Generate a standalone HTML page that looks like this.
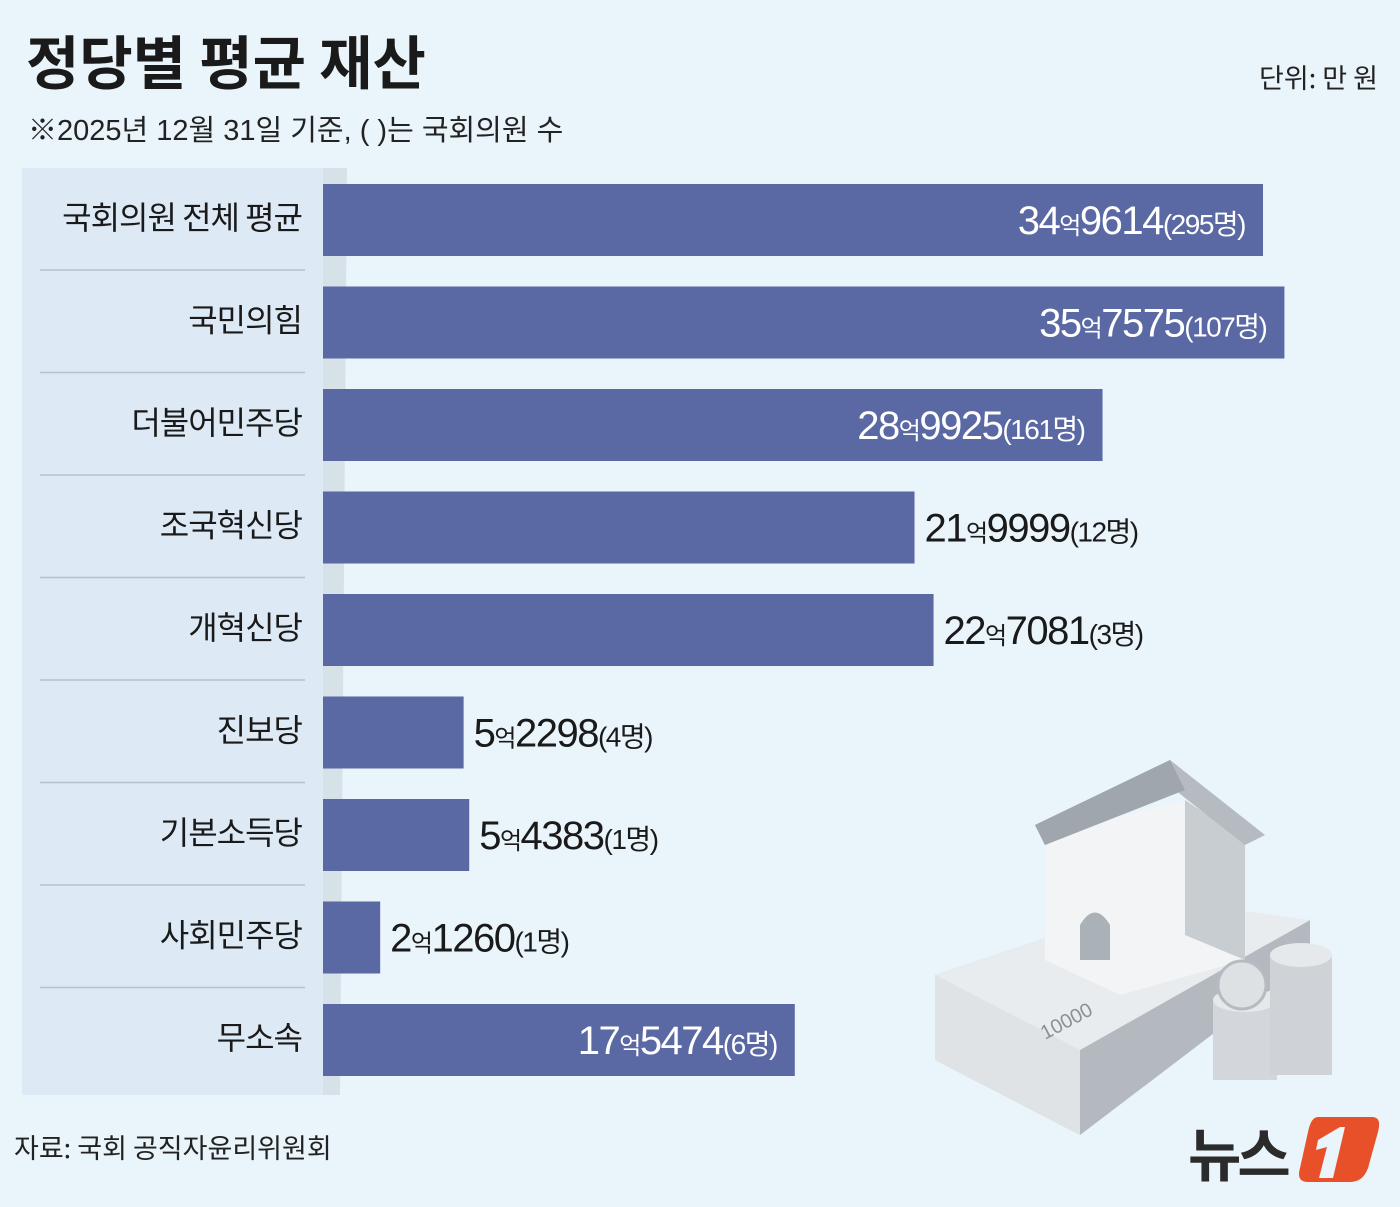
<!DOCTYPE html>
<html><head><meta charset="utf-8">
<style>
html,body{margin:0;padding:0;background:#eaf4fb;}
body{width:1400px;height:1207px;overflow:hidden;position:relative;font-family:"Liberation Sans","Noto Sans CJK KR",sans-serif;}
svg{position:absolute;left:0;top:0}
</style></head>
<body>
<svg id="chart" width="1400" height="1207" viewBox="0 0 1400 1207">
  <rect x="0" y="0" width="1400" height="1207" fill="#eaf4fb"/>
  <text x="26" y="84" font-size="58" font-weight="bold" fill="#1a1a1a" font-family="'Noto Sans CJK KR',sans-serif">정당별 평균 재산</text>
  <text x="28" y="140" font-size="29" fill="#222" font-family="'Liberation Sans','Noto Sans CJK KR',sans-serif">※2025년 12월 31일 기준, ( )는 국회의원 수</text>
  <text x="1378" y="88" font-size="27" fill="#222" text-anchor="end" font-family="'Noto Sans CJK KR',sans-serif">단위: 만 원</text>
  <rect x="22" y="168" width="301" height="927" fill="#dde9f5"/>
  <polygon points="323,168 347,168 340,1095 323,1095" fill="#c9d4dc" opacity="0.6"/>
  <g id="bars"></g>
  <g id="illustration">
    <polygon points="935,975 1160,900 1310,960 1080,1135 935,1060" fill="#c9ced3"/>
    <polygon points="935,975 1080,1050 1080,1135 935,1060" fill="#dfe3e6"/>
    <polygon points="1080,1050 1310,920 1310,960 1080,1135" fill="#b3b9bf"/>
    <polygon points="935,975 1160,900 1310,920 1080,1050" fill="#e9ecee"/>
    <text x="1045" y="1040" font-size="20" fill="#8a9096" transform="rotate(-28 1045 1040)" font-family="'Liberation Sans',sans-serif">10000</text>
    <polygon points="1045,835 1185,800 1245,840 1245,960 1120,995 1045,960" fill="#f2f4f5"/>
    <polygon points="1185,800 1245,840 1245,960 1185,935" fill="#c8cdd2"/>
    <polygon points="1035,825 1170,760 1265,835 1245,845 1175,790 1045,845" fill="#b5bbc1"/>
    <polygon points="1035,825 1170,760 1185,790 1045,845" fill="#9fa6ad"/>
    <path d="M1080,960 L1080,925 Q1095,900 1110,925 L1110,960 Z" fill="#aab1b7"/>
    <ellipse cx="1245" cy="1040" rx="32" ry="12" fill="#c5cacf"/>
    <rect x="1213" y="1000" width="64" height="80" fill="#d3d7db"/>
    <ellipse cx="1245" cy="1000" rx="32" ry="12" fill="#e6e9eb"/>
    <rect x="1270" y="955" width="62" height="120" fill="#cfd3d7"/>
    <ellipse cx="1301" cy="955" rx="31" ry="12" fill="#e6e9eb"/>
    <ellipse cx="1242" cy="985" rx="24" ry="24" fill="#dde1e4" stroke="#b5bbc1" stroke-width="3"/>
  </g>
  <text x="14" y="1158" font-size="27" fill="#222" font-family="'Noto Sans CJK KR',sans-serif">자료: 국회 공직자윤리위원회</text>
  <g>
    <text x="1188" y="1176" font-size="58" font-weight="bold" fill="#2b2b2b" font-family="'Noto Sans CJK KR',sans-serif" letter-spacing="-4">뉴스</text>
    <path d="M1318,1117 L1372,1117 Q1382,1117 1378,1132 L1368,1168 Q1363,1182 1350,1182 L1308,1182 Q1296,1182 1300,1168 L1308,1132 Q1311,1117 1318,1117 Z" fill="#e8502a"/>
    <polygon points="1318,1140 1340,1127 1345,1127 1333,1178 1319,1178 1327,1147 1316,1150" fill="#eaf4fb"/>
  </g>
</svg>
<script>
const categories = ["국회의원 전체 평균","국민의힘","더불어민주당","조국혁신당","개혁신당","진보당","기본소득당","사회민주당","무소속"];
const values = [349614,357575,289925,219999,227081,52298,54383,21260,175474];
const counts = [295,107,161,12,3,4,1,1,6];
const labelInside = [true,true,true,false,false,false,false,false,true];

const NS = "http://www.w3.org/2000/svg";
const x0 = 323, scale = (1263 - 323) / 349614;
function xScale(v){ return x0 + v * scale; }
function yBand(i){ return 184 + i * 102.5; }
const barH = 72;
const g = document.getElementById('bars');
function mk(tag, attrs){ const e = document.createElementNS(NS, tag); for (const k in attrs) e.setAttribute(k, attrs[k]); return e; }

categories.forEach((c, i) => {
  const y = yBand(i), xe = xScale(values[i]);
  const bar = mk('rect', {x: x0, y: y, width: xe - x0, height: barH, fill: '#5a68a3'});
  
  
  g.appendChild(bar);

  const lab = mk('text', {x: 302, y: y + 45, 'font-size': 32, fill: '#1a1a1a', 'text-anchor': 'end', 'font-family': "'Noto Sans CJK KR',sans-serif", 'letter-spacing': '-1'});
  lab.textContent = c;
  
  
  g.appendChild(lab);

  if (i < categories.length - 1) {
    const sep = mk('line', {x1: 40, x2: 305, y1: y + 72 + 14, y2: y + 72 + 14, stroke: '#b4c2ce', 'stroke-width': 1.5});
    
    
    g.appendChild(sep);
  }

  const inside = labelInside[i];
  const eok = Math.floor(values[i] / 10000), rest = values[i] % 10000;
  const t = mk('text', {y: y + 50, fill: inside ? '#ffffff' : '#1a1a1a', 'font-family': "'Liberation Sans Narrow','Liberation Sans','Noto Sans CJK KR',sans-serif", 'text-anchor': inside ? 'end' : 'start', x: inside ? xe - 18 : xe + 10, 'letter-spacing': '-1.5'});
  const parts = [[String(eok), 40], ['억', 24], [String(rest), 40], ['(' + counts[i] + '명)', 28]];
  parts.forEach(p => { const s = mk('tspan', {'font-size': p[1]}); s.textContent = p[0]; t.appendChild(s); });
  
  
  g.appendChild(t);
});
</script>
</body></html>
